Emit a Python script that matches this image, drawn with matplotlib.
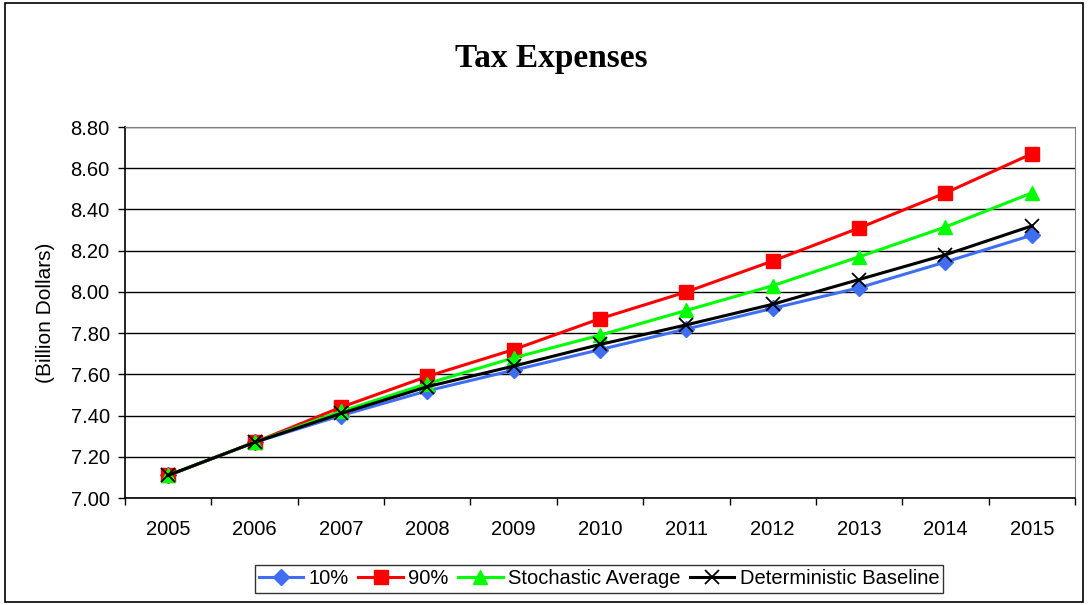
import matplotlib.pyplot as plt
from matplotlib.patches import Rectangle
import numpy as np

years = ['2005', '2006', '2007', '2008', '2009', '2010',
         '2011', '2012', '2013', '2014', '2015']
p10 = [7.11, 7.27, 7.40, 7.52, 7.62, 7.72, 7.82, 7.92, 8.02, 8.145, 8.275]
p90 = [7.11, 7.27, 7.44, 7.59, 7.72, 7.87, 8.00, 8.15, 8.31, 8.48, 8.67]
stoch_avg = [7.11, 7.27, 7.42, 7.555, 7.68, 7.79, 7.91, 8.03, 8.17, 8.315, 8.48]
baseline = [7.11, 7.27, 7.41, 7.54, 7.64, 7.745, 7.84, 7.94, 8.06, 8.18, 8.32]

plt.rcParams['font.family'] = ['Liberation Sans', 'DejaVu Sans']

fig = plt.figure(figsize=(10.88, 6.05), dpi=100)
ax = fig.add_axes([125 / 1088, 1 - 498 / 605, 950 / 1088, 371 / 605])

x = np.arange(len(years))
ax.plot(x, p10, color='#3f6ff0', lw=2.2, marker='D', ms=8.5, label='10%')
ax.plot(x, p90, color='#ff0000', lw=2.2, marker='s', ms=10, label='90%')
ax.plot(x, stoch_avg, color='#00ff00', lw=2.2, marker='^', ms=10.5,
        label='Stochastic Average')
ax.plot(x, baseline, color='black', lw=2.2, marker='x', ms=10.5, mew=1.3,
        label='Deterministic Baseline')

ax.set_xlim(-0.5, len(years) - 0.5)
ax.set_ylim(7.0, 8.8)
ax.set_yticks(np.arange(7.0, 8.81, 0.2))
ax.set_yticklabels(['%.2f' % v for v in np.arange(7.0, 8.81, 0.2)], fontsize=14.5)
ax.set_xticks(x)
ax.set_xticklabels(years, fontsize=14.5)
ax.set_xticks(np.arange(-0.5, len(years)), minor=True)
ax.tick_params(axis='x', which='major', length=0, pad=16)
ax.tick_params(axis='x', which='minor', length=5, width=1, direction='out')
ax.tick_params(axis='y', length=5, width=1, direction='out', pad=6)
ax.grid(axis='y', color='black', lw=1)
ax.set_axisbelow(True)

for side in ['top', 'right']:
    ax.spines[side].set_color('#808080')
for side in ['left', 'bottom']:
    ax.spines[side].set_color('black')
    ax.spines[side].set_linewidth(1.2)

ax.set_ylabel('(Billion Dollars)', fontsize=15)
ax.yaxis.set_label_coords(-0.074, 0.5)
fig.text(551 / 1088, 1 - 67 / 605, 'Tax Expenses', ha='center', va='baseline',
         fontsize=24, fontweight='bold', family='Liberation Serif')

leg = fig.legend(loc='center', bbox_to_anchor=(599 / 1088, 1 - 579 / 605),
                 ncol=4, fontsize=14.5, frameon=True, fancybox=False,
                 edgecolor='black', handlelength=2.2, handletextpad=0.25,
                 columnspacing=0.5, borderpad=0.2)
leg.get_frame().set_linewidth(1)

fig.patches.append(Rectangle((5 / 1088, 3 / 605), 1078 / 1088, 599 / 605,
                             transform=fig.transFigure, fill=False,
                             edgecolor='black', lw=1.2))

fig.savefig('out.png', dpi=100)
